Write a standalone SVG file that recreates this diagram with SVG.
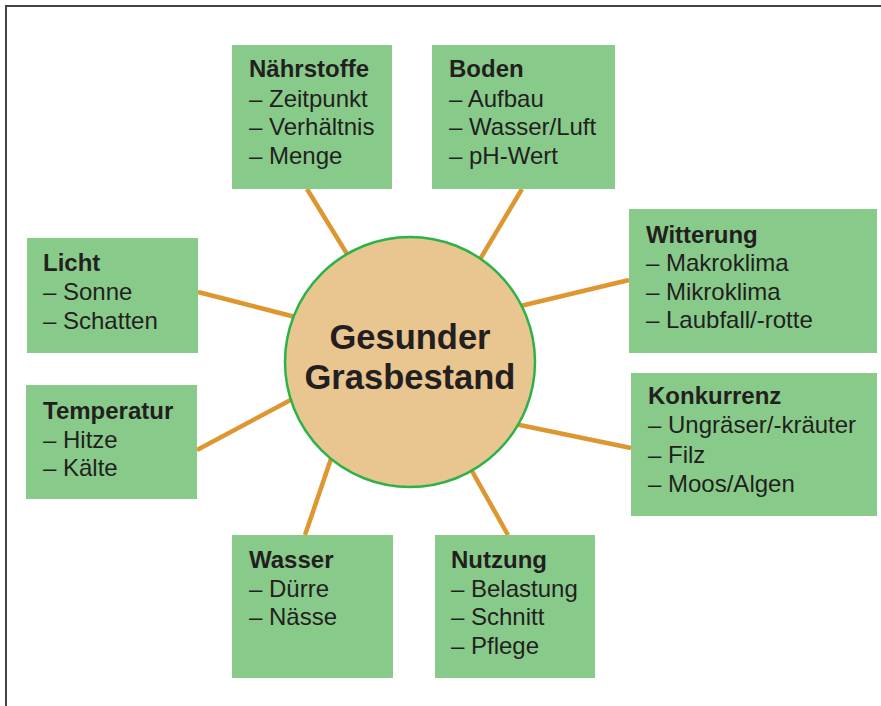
<svg xmlns="http://www.w3.org/2000/svg" width="881" height="706" viewBox="0 0 881 706">
<style>
.box{fill:#88ca8a}
.t{font-family:"Liberation Sans",Arial,Helvetica,sans-serif;font-size:24px;fill:#231f20}
.h{font-weight:bold}
.c{stroke:#de9630;stroke-width:4.5;fill:none}
.title{font-family:"Liberation Sans",Arial,Helvetica,sans-serif;font-size:34.5px;font-weight:bold;fill:#231f20;text-anchor:middle}
</style>
<rect width="881" height="706" fill="#fff"/>
<path d="M6 706 V6 H881" fill="none" stroke="#444" stroke-width="2"/>
<g id="connectors">
<line class="c" x1="307" y1="189" x2="352" y2="262"/>
<line class="c" x1="522" y1="189" x2="476" y2="266"/>
<line class="c" x1="629" y1="280" x2="512" y2="308"/>
<line class="c" x1="631" y1="448" x2="510" y2="423"/>
<line class="c" x1="198" y1="292" x2="303" y2="319"/>
<line class="c" x1="197" y1="450" x2="300" y2="395"/>
<line class="c" x1="305" y1="535" x2="334" y2="450"/>
<line class="c" x1="508" y1="535" x2="468" y2="464"/>
</g>
<g id="center">
<circle cx="410" cy="362" r="125" fill="#e9c58f" stroke="#2db24a" stroke-width="2.5"/>
<text class="title" x="410" y="349">Gesunder</text>
<text class="title" x="410" y="389">Grasbestand</text>
</g>
<g id="naehrstoffe">
<rect class="box" x="232" y="45" width="160" height="144"/>
<text class="t"><tspan class="h" x="249" y="77">Nährstoffe</tspan><tspan x="249" y="107">– Zeitpunkt</tspan><tspan x="249" y="135">– Verhältnis</tspan><tspan x="249" y="164">– Menge</tspan></text>
</g>
<g id="boden">
<rect class="box" x="432" y="45" width="183" height="144"/>
<text class="t"><tspan class="h" x="449" y="77">Boden</tspan><tspan x="449" y="107">– Aufbau</tspan><tspan x="449" y="135">– Wasser/Luft</tspan><tspan x="449" y="164">– pH-Wert</tspan></text>
</g>
<g id="witterung">
<rect class="box" x="629" y="209" width="248" height="144"/>
<text class="t"><tspan class="h" x="646" y="243">Witterung</tspan><tspan x="646" y="271">– Makroklima</tspan><tspan x="646" y="300">– Mikroklima</tspan><tspan x="646" y="328">– Laubfall/-rotte</tspan></text>
</g>
<g id="konkurrenz">
<rect class="box" x="631" y="373" width="246" height="143"/>
<text class="t"><tspan class="h" x="648" y="404">Konkurrenz</tspan><tspan x="648" y="433">– Ungräser/-kräuter</tspan><tspan x="648" y="463">– Filz</tspan><tspan x="648" y="492">– Moos/Algen</tspan></text>
</g>
<g id="licht">
<rect class="box" x="27" y="238" width="171" height="115"/>
<text class="t"><tspan class="h" x="43" y="271">Licht</tspan><tspan x="43" y="300">– Sonne</tspan><tspan x="43" y="329">– Schatten</tspan></text>
</g>
<g id="temperatur">
<rect class="box" x="26" y="385" width="171" height="114"/>
<text class="t"><tspan class="h" x="43" y="419">Temperatur</tspan><tspan x="43" y="448">– Hitze</tspan><tspan x="43" y="476">– Kälte</tspan></text>
</g>
<g id="wasser">
<rect class="box" x="232" y="535" width="161" height="143"/>
<text class="t"><tspan class="h" x="249" y="568">Wasser</tspan><tspan x="249" y="597">– Dürre</tspan><tspan x="249" y="625">– Nässe</tspan></text>
</g>
<g id="nutzung">
<rect class="box" x="435" y="535" width="160" height="143"/>
<text class="t"><tspan class="h" x="451" y="568">Nutzung</tspan><tspan x="451" y="597">– Belastung</tspan><tspan x="451" y="625">– Schnitt</tspan><tspan x="451" y="654">– Pflege</tspan></text>
</g>
</svg>
